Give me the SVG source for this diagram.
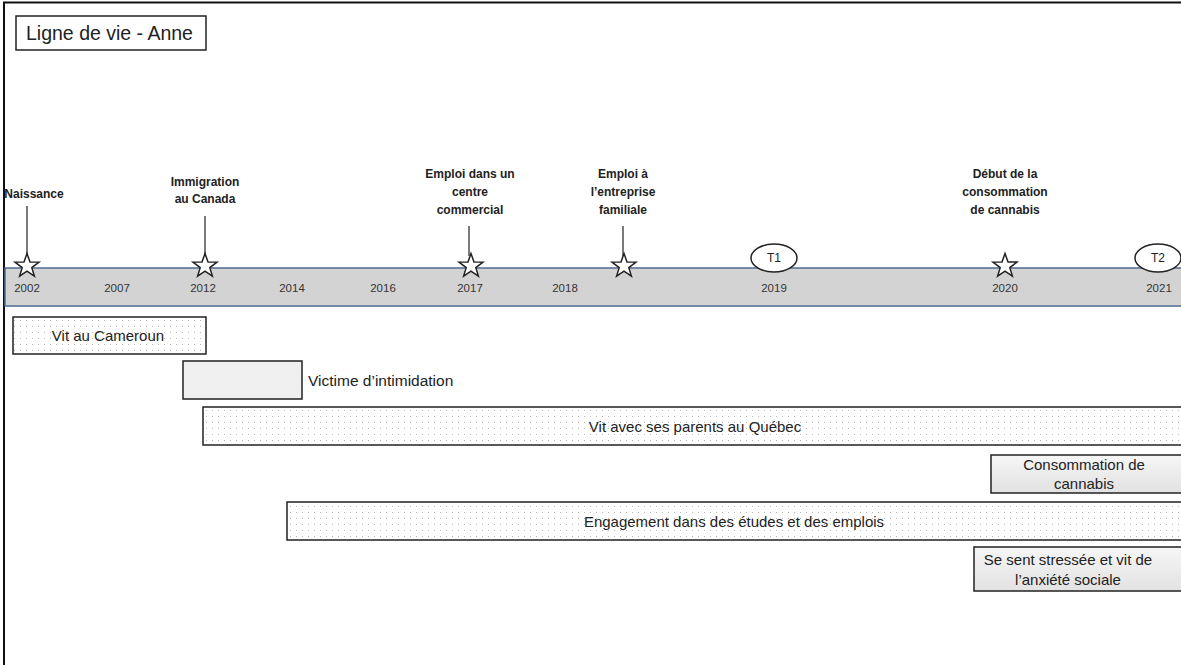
<svg xmlns="http://www.w3.org/2000/svg" width="1181" height="665" viewBox="0 0 1181 665">
  <defs>
    <pattern id="dots" width="6" height="6" patternUnits="userSpaceOnUse">
      <rect width="6" height="6" fill="#ffffff"/>
      <rect x="2" y="2" width="1" height="1" fill="#b8b8b8"/>
    </pattern>
    <linearGradient id="shade" x1="0" y1="0" x2="0" y2="1">
      <stop offset="0" stop-color="#f6f6f6"/>
      <stop offset="1" stop-color="#e2e2e2"/>
    </linearGradient>
    <polygon id="star" points="0,-12.5 3,-4.1 12,-3.9 4.8,1.6 7.4,10.2 0,5.1 -7.4,10.2 -4.8,1.6 -12,-3.9 -3,-4.1" fill="#ffffff" stroke="#222" stroke-width="1.5"/>
  </defs>
  <style>
    text { font-family: "Liberation Sans", Arial, sans-serif; fill: #222; }
    .title { font-size: 19.5px; }
    .ev { font-size: 12px; font-weight: bold; text-anchor: middle; }
    .yr { font-size: 11.5px; text-anchor: middle; fill: #333; }
    .bar { stroke: #222; stroke-width: 1.5; }
    .lbl { font-size: 15px; text-anchor: middle; }
    .lbl-side { font-size: 15.5px; text-anchor: start; }
    .tick { stroke: #222; stroke-width: 1.2; }
    .tp { font-size: 12px; text-anchor: middle; }
  </style>

  <rect width="1181" height="665" fill="#ffffff"/>
  <!-- page frame -->
  <path d="M4,665 V2.5 H1181" fill="none" stroke="#111" stroke-width="2"/>

  <g id="title">
    <rect x="16" y="16" width="190" height="34" fill="#fff" stroke="#222" stroke-width="1.5"/>
    <text class="title" x="26" y="40">Ligne de vie - Anne</text>
  </g>

  <!-- timeline axis -->
  <g id="axis">
    <rect x="5" y="268" width="1178" height="38" fill="#d3d3d3" stroke="#4f6a93" stroke-width="1.5"/>
    <text class="yr" x="27" y="292">2002</text>
    <text class="yr" x="117" y="292">2007</text>
    <text class="yr" x="203" y="292">2012</text>
    <text class="yr" x="292" y="292">2014</text>
    <text class="yr" x="383" y="292">2016</text>
    <text class="yr" x="470" y="292">2017</text>
    <text class="yr" x="565" y="292">2018</text>
    <text class="yr" x="774" y="292">2019</text>
    <text class="yr" x="1005" y="292">2020</text>
    <text class="yr" x="1159" y="292">2021</text>
  </g>

  <!-- event pointers -->
  <g id="connectors">
    <line class="tick" x1="27" y1="206" x2="27" y2="255"/>
    <line class="tick" x1="205" y1="216" x2="205" y2="255"/>
    <line class="tick" x1="469" y1="226" x2="469" y2="256"/>
    <line class="tick" x1="623" y1="226" x2="623" y2="256"/>
  </g>

  <g id="ev-naissance">
    <use href="#star" x="27" y="266"/>
    <text class="ev" x="34" y="198">Naissance</text>
  </g>
  <g id="ev-immigration">
    <use href="#star" x="205" y="266"/>
    <text class="ev" x="205" y="186">Immigration</text>
    <text class="ev" x="205" y="203">au Canada</text>
  </g>
  <g id="ev-emploi-centre">
    <use href="#star" x="471" y="266"/>
    <text class="ev" x="470" y="178">Emploi dans un</text>
    <text class="ev" x="470" y="196">centre</text>
    <text class="ev" x="470" y="214">commercial</text>
  </g>
  <g id="ev-emploi-famille">
    <use href="#star" x="624" y="266"/>
    <text class="ev" x="623" y="178">Emploi à</text>
    <text class="ev" x="623" y="196">l’entreprise</text>
    <text class="ev" x="623" y="214">familiale</text>
  </g>
  <g id="ev-cannabis">
    <use href="#star" x="1005" y="266"/>
    <text class="ev" x="1005" y="178">Début de la</text>
    <text class="ev" x="1005" y="196">consommation</text>
    <text class="ev" x="1005" y="214">de cannabis</text>
  </g>
  <g id="t1">
    <ellipse cx="774" cy="258" rx="23" ry="14" fill="#fff" stroke="#222" stroke-width="1.5"/>
    <text class="tp" x="774" y="262">T1</text>
  </g>
  <g id="t2">
    <ellipse cx="1158" cy="258" rx="23" ry="14" fill="#fff" stroke="#222" stroke-width="1.5"/>
    <text class="tp" x="1158" y="262">T2</text>
  </g>

  <!-- life periods -->
  <g id="p-cameroun">
    <rect class="bar" x="13" y="317" width="193" height="37" fill="url(#dots)"/>
    <text class="lbl" x="108" y="341">Vit au Cameroun</text>
  </g>
  <g id="p-intimidation">
    <rect class="bar" x="183" y="361" width="119" height="38" fill="#f0f0f0"/>
    <text class="lbl-side" x="308" y="386">Victime d’intimidation</text>
  </g>
  <g id="p-quebec">
    <rect class="bar" x="203" y="407" width="982" height="38" fill="url(#dots)"/>
    <text class="lbl" x="695" y="432">Vit avec ses parents au Québec</text>
  </g>
  <g id="p-consommation">
    <rect class="bar" x="991" y="455" width="194" height="38" fill="url(#shade)"/>
    <text class="lbl" x="1084" y="470">Consommation de</text>
    <text class="lbl" x="1084" y="489">cannabis</text>
  </g>
  <g id="p-engagement">
    <rect class="bar" x="287" y="502" width="898" height="38" fill="url(#dots)"/>
    <text class="lbl" x="734" y="527">Engagement dans des études et des emplois</text>
  </g>
  <g id="p-stress">
    <rect class="bar" x="974" y="547" width="211" height="44" fill="url(#shade)"/>
    <text class="lbl" x="1068" y="565">Se sent stressée et vit de</text>
    <text class="lbl" x="1068" y="585">l’anxiété sociale</text>
  </g>
</svg>
